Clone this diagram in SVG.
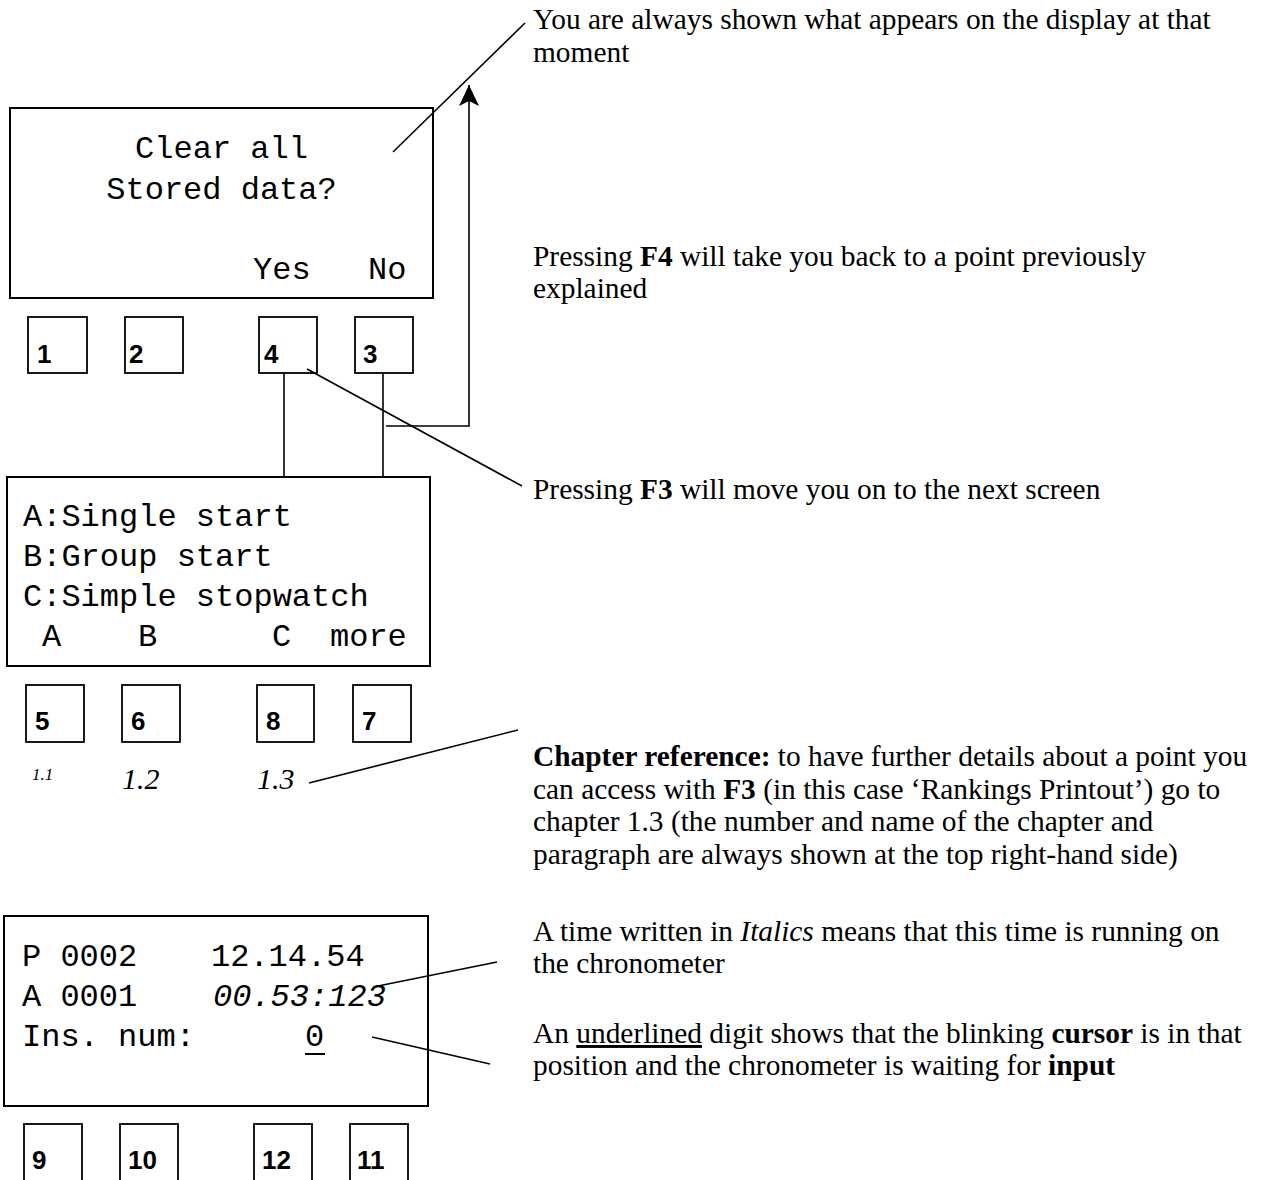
<svg xmlns="http://www.w3.org/2000/svg" width="1263" height="1180" viewBox="0 0 1263 1180">
<style>
.box{fill:none;stroke:#000;stroke-width:2}
.key{fill:#fff;stroke:#000;stroke-width:1.8}
.mono{font-family:"Liberation Mono","Courier New",monospace;font-size:32px;fill:#000}
.num{font-family:"Liberation Sans",Arial,sans-serif;font-size:26px;font-weight:bold;fill:#000}
.note{font-family:"Liberation Serif","Times New Roman",serif;font-size:29.4px;fill:#000}
.ch{font-family:"Liberation Serif","Times New Roman",serif;font-style:italic;fill:#000}
.ln{fill:none;stroke:#000;stroke-width:1.6}
</style>
<defs>
<marker id="arr" markerUnits="userSpaceOnUse" markerWidth="24" markerHeight="24" viewBox="0 0 24 24" refX="22" refY="12" orient="auto">
<path d="M22,12 L1,2 L6,12 L1,22 Z" fill="#000"/>
</marker>
</defs>
<rect width="1263" height="1180" fill="#fff"/>

<g id="display1">
<rect class="box" x="10" y="108" width="423" height="190"/>
<text class="mono" x="221.5" y="158" text-anchor="middle">Clear all</text>
<text class="mono" x="221.5" y="199" text-anchor="middle">Stored data?</text>
<text class="mono" x="253" y="279">Yes</text>
<text class="mono" x="368" y="279">No</text>
</g>
<g id="key1"><rect class="key" x="28" y="317" width="59" height="56"/><text class="num" x="37" y="363">1</text></g>
<g id="key2"><rect class="key" x="125" y="317" width="58" height="56"/><text class="num" x="129" y="363">2</text></g>
<g id="key4"><rect class="key" x="259" y="317" width="58" height="56"/><text class="num" x="264" y="363">4</text></g>
<g id="key3"><rect class="key" x="355" y="317" width="58" height="56"/><text class="num" x="363" y="363">3</text></g>

<g id="display2">
<rect class="box" x="7" y="477" width="423" height="189"/>
<text class="mono" x="23" y="526">A:Single start</text>
<text class="mono" x="23" y="566">B:Group start</text>
<text class="mono" x="23" y="606">C:Simple stopwatch</text>
<text class="mono" x="42" y="646">A</text>
<text class="mono" x="138" y="646">B</text>
<text class="mono" x="272" y="646">C</text>
<text class="mono" x="330" y="646">more</text>
</g>
<g id="key5"><rect class="key" x="26" y="685" width="58" height="57"/><text class="num" x="35" y="730">5</text></g>
<g id="key6"><rect class="key" x="122" y="685" width="58" height="57"/><text class="num" x="131" y="730">6</text></g>
<g id="key8"><rect class="key" x="257" y="685" width="57" height="57"/><text class="num" x="266" y="730">8</text></g>
<g id="key7"><rect class="key" x="353" y="685" width="58" height="57"/><text class="num" x="362" y="730">7</text></g>

<g id="chapters">
<text class="ch" x="32" y="780" font-size="17">1.1</text>
<text class="ch" x="122" y="789" font-size="30">1.2</text>
<text class="ch" x="257" y="789" font-size="30">1.3</text>
</g>

<g id="display3">
<rect class="box" x="4" y="916" width="424" height="190"/>
<text class="mono" x="22" y="966">P 0002</text>
<text class="mono" x="211" y="966">12.14.54</text>
<text class="mono" x="22" y="1006">A 0001</text>
<text class="mono" x="213" y="1006" font-style="italic">00.53:123</text>
<text class="mono" x="22" y="1046">Ins. num:</text>
<text class="mono" x="305" y="1046">0</text>
<line x1="305" y1="1054" x2="325" y2="1054" stroke="#000" stroke-width="2"/>
</g>
<g id="key9"><rect class="key" x="24" y="1124" width="58" height="60"/><text class="num" x="32" y="1169">9</text></g>
<g id="key10"><rect class="key" x="120" y="1124" width="58" height="60"/><text class="num" x="128" y="1169">10</text></g>
<g id="key12"><rect class="key" x="254" y="1124" width="58" height="60"/><text class="num" x="262" y="1169">12</text></g>
<g id="key11"><rect class="key" x="350" y="1124" width="58" height="60"/><text class="num" x="357" y="1169">11</text></g>

<g id="notes">
<text class="note" x="533" y="29">You are always shown what appears on the display at that</text>
<text class="note" x="533" y="62">moment</text>
<text class="note" x="533" y="266">Pressing <tspan font-weight="bold">F4</tspan> will take you back to a point previously</text>
<text class="note" x="533" y="298">explained</text>
<text class="note" x="533" y="499">Pressing <tspan font-weight="bold">F3</tspan> will move you on to the next screen</text>
<text class="note" x="533" y="766"><tspan font-weight="bold">Chapter reference:</tspan> to have further details about a point you</text>
<text class="note" x="533" y="799">can access with <tspan font-weight="bold">F3</tspan> (in this case ‘Rankings Printout’) go to</text>
<text class="note" x="533" y="831">chapter 1.3 (the number and name of the chapter and</text>
<text class="note" x="533" y="864">paragraph are always shown at the top right-hand side)</text>
<text class="note" x="533" y="941">A time written in <tspan font-style="italic">Italics</tspan> means that this time is running on</text>
<text class="note" x="533" y="973">the chronometer</text>
<text class="note" x="533" y="1043">An <tspan text-decoration="underline">underlined</tspan> digit shows that the blinking <tspan font-weight="bold">cursor</tspan> is in that</text>
<text class="note" x="533" y="1075">position and the chronometer is waiting for <tspan font-weight="bold">input</tspan></text>
</g>

<g id="connectors">
<line class="ln" x1="284" y1="373" x2="284" y2="477"/>
<line class="ln" x1="383" y1="373" x2="383" y2="477"/>
<polyline class="ln" points="386,426 469,426 469,85" marker-end="url(#arr)"/>
<line class="ln" x1="393" y1="152" x2="525" y2="23"/>
<line class="ln" x1="307" y1="369" x2="522" y2="486"/>
<line class="ln" x1="309" y1="783" x2="518" y2="730"/>
<line class="ln" x1="373" y1="987" x2="497" y2="962"/>
<line class="ln" x1="372" y1="1037" x2="490" y2="1064"/>
</g>
</svg>
